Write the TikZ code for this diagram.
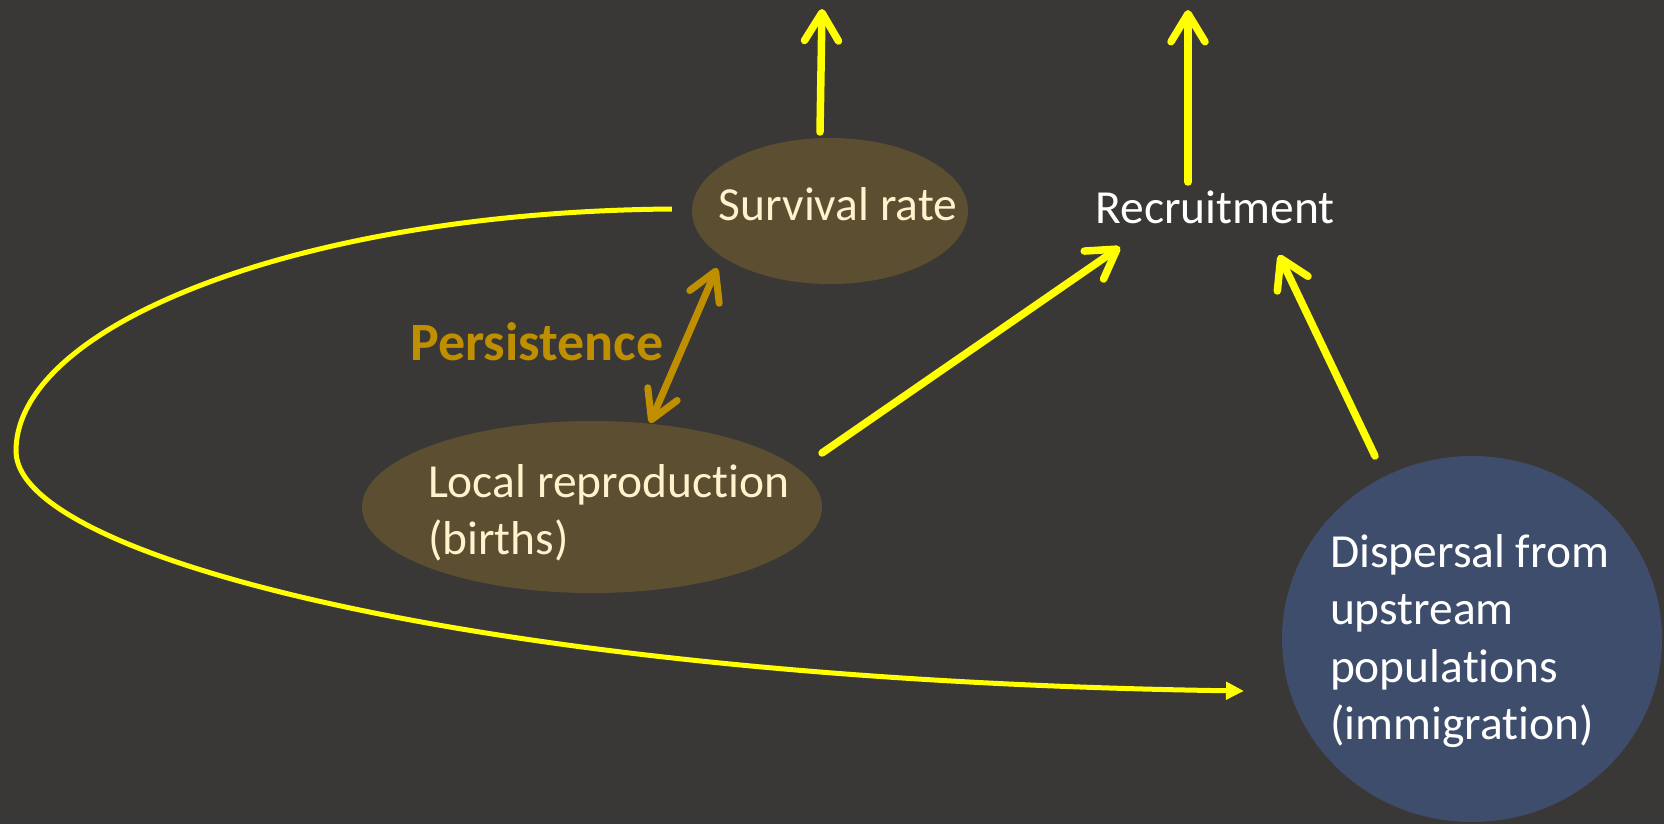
\documentclass[tikz,border=0pt]{standalone}
\usepackage{fontspec}
\setmainfont{Carlito}[Ligatures={NoCommon}]
\usetikzlibrary{arrows.meta,calc,shapes.geometric}
\definecolor{bgc}{HTML}{3A3836}
\definecolor{brownfill}{HTML}{5C4E30}
\definecolor{cream}{HTML}{FFF2CC}
\definecolor{bluefill}{HTML}{3E4D6B}
\definecolor{persgold}{HTML}{BF8F00}
\definecolor{ayellow}{HTML}{FFFF00}
\begin{document}
\begin{tikzpicture}[x=1pt,y=-1pt,
  txt/.style={font=\fontsize{47.5pt}{57.5pt}\selectfont, inner sep=0pt},
  bubble/.style={ellipse, fill=brownfill, text=cream, txt},
  yarrow/.style={draw=ayellow, line width=7.5pt, line cap=round,
    -{Straight Barb[length=28pt,width=34pt,round]}},
  parrow/.style={draw=persgold, line width=7pt, line cap=round,
    {Straight Barb[length=28pt,width=32pt,round]}-{Straight Barb[length=28pt,width=32pt,round]}},
  loopline/.style={draw=ayellow, line width=5pt,
    -{Triangle[length=18pt,width=17pt]}}]
\fill[bgc] (0,0) rectangle (1664,824);
\useasboundingbox (0,0) rectangle (1664,824);

\node[bubble, minimum width=276pt, minimum height=146pt, text height=18pt, text depth=0pt]
  (surv) at (830,211) {\makebox[0pt]{\hspace*{16pt}Survival rate}};
\node[bubble, minimum width=460pt, minimum height=172pt, text height=0pt, text depth=20pt]
  (loc) at (592,507) {\makebox[0pt][l]{\hspace*{-164pt}\begin{tabular}[t]{@{}l@{}}Local reproduction\\(births)\end{tabular}}};
\node[txt, text=white, text height=28pt, text depth=0pt] (rec) at (1215,209) {Recruitment};
\node[ellipse, fill=bluefill, txt, text=white, minimum width=380pt, minimum height=366pt, text height=0pt, text depth=144pt]
  (disp) at (1472,639) {\makebox[0pt][l]{\hspace*{-142pt}\begin{tabular}[t]{@{}l@{}}Dispersal from\\upstream\\populations\\(immigration)\end{tabular}}};
\node[anchor=base, inner sep=0pt, text=persgold, font=\fontsize{54pt}{60pt}\selectfont\bfseries]
  (pers) at (537,360) {Persistence};

\coordinate (survout) at (822,9);
\coordinate (recout) at (1188,10);

\draw[yarrow] ($(surv.center)+(-10,-79)$) -- (survout);
\draw[yarrow] ($(rec.center)+(-27,-27)$) -- (recout);
\draw[yarrow] ($(loc.center)+(230,-54)$) -- ($(rec.center)+(-95,38)$);
\draw[yarrow] ($(disp.center)+(-97,-183)$) -- ($(rec.center)+(64,46)$);
\draw[parrow] ($(surv.center)+(-113,57)$) -- ($(loc.center)+(58,-84)$);
\draw[loopline] ($(surv.west)+(-20,-2)$) .. controls (300,212) and (16,325) .. (16,451)
  .. controls (16,560) and (500,680) .. ($(disp.center)+(-228,52)$);
\end{tikzpicture}
\end{document}
